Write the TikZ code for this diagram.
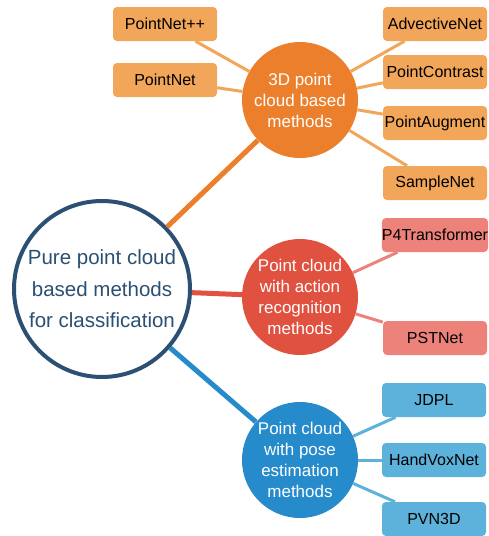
\documentclass[tikz,border=0pt]{standalone}
\usepackage{fontspec}
\setmainfont{Liberation Sans}
\definecolor{hubblue}{HTML}{2B5073}
\definecolor{orangeC}{HTML}{EC7F2C}
\definecolor{orangeL}{HTML}{F2A65A}
\definecolor{redC}{HTML}{E0513F}
\definecolor{redL}{HTML}{EC827A}
\definecolor{blueC}{HTML}{258BCB}
\definecolor{blueL}{HTML}{5DB2DC}
\begin{document}
\begin{tikzpicture}[x=1pt,y=-1pt,
  hub/.style={circle, draw=hubblue, line width=4pt, fill=white, minimum size=176pt,
    inner sep=0pt, align=center, text=hubblue, font=\fontsize{20.5}{31.5}\selectfont},
  branch/.style={circle, fill=#1, minimum size=116pt, inner sep=0pt, align=center,
    text=white, font=\fontsize{17}{21}\selectfont},
  leaf/.style={rounded corners=4pt, fill=#1, minimum width=104pt, minimum height=34pt,
    inner sep=0pt, text=black, font=\fontsize{16}{19}\selectfont},
  trunk/.style={line width=5pt, draw=#1},
  twig/.style={line width=3pt, draw=#1},
]
\useasboundingbox (0,0) rectangle (488,536);

% central topic
\node[hub] (hub) at (102,289) {Pure point cloud\\based methods\\for classification};

% branches
\node[branch=orangeC] (pc3d) at (300,100) {3D point\\cloud based\\methods};
\node[branch=redC] (act) at (300,297) {Point cloud\\with action\\recognition\\methods};
\node[branch=blueC] (pose) at (300,460) {Point cloud\\with pose\\estimation\\methods};

% leaves of the 3D branch
\node[leaf=orangeL] (pnpp) at (165,24) {PointNet++};
\node[leaf=orangeL] (pn) at (165,80) {PointNet};
\node[leaf=orangeL] (adv) at (435,24) {AdvectiveNet};
\node[leaf=orangeL] (pcon) at (435,72) {PointContrast};
\node[leaf=orangeL] (paug) at (435,123) {PointAugment};
\node[leaf=orangeL] (samp) at (435,183) {SampleNet};

% leaves of the action branch
\node[leaf=redL] (p4t) at (435,235) {P4Transformer};
\node[leaf=redL] (pst) at (435,338) {PSTNet};

% leaves of the pose branch
\node[leaf=blueL] (jdpl) at (434,400) {JDPL};
\node[leaf=blueL] (hvn) at (434,460) {HandVoxNet};
\node[leaf=blueL] (pvn) at (434,519) {PVN3D};

% trunk connectors
\draw[trunk=orangeC] (hub) -- (pc3d);
\draw[trunk=redC] (hub) -- (act);
\draw[trunk=blueC] (hub) -- (pose);

% twig connectors
\foreach \l in {pnpp,pn,adv,pcon,paug,samp} \draw[twig=orangeL] (pc3d) -- (\l);
\foreach \l in {p4t,pst} \draw[twig=redL] (act) -- (\l);
\foreach \l in {jdpl,hvn,pvn} \draw[twig=blueL] (pose) -- (\l);
\end{tikzpicture}
\end{document}
